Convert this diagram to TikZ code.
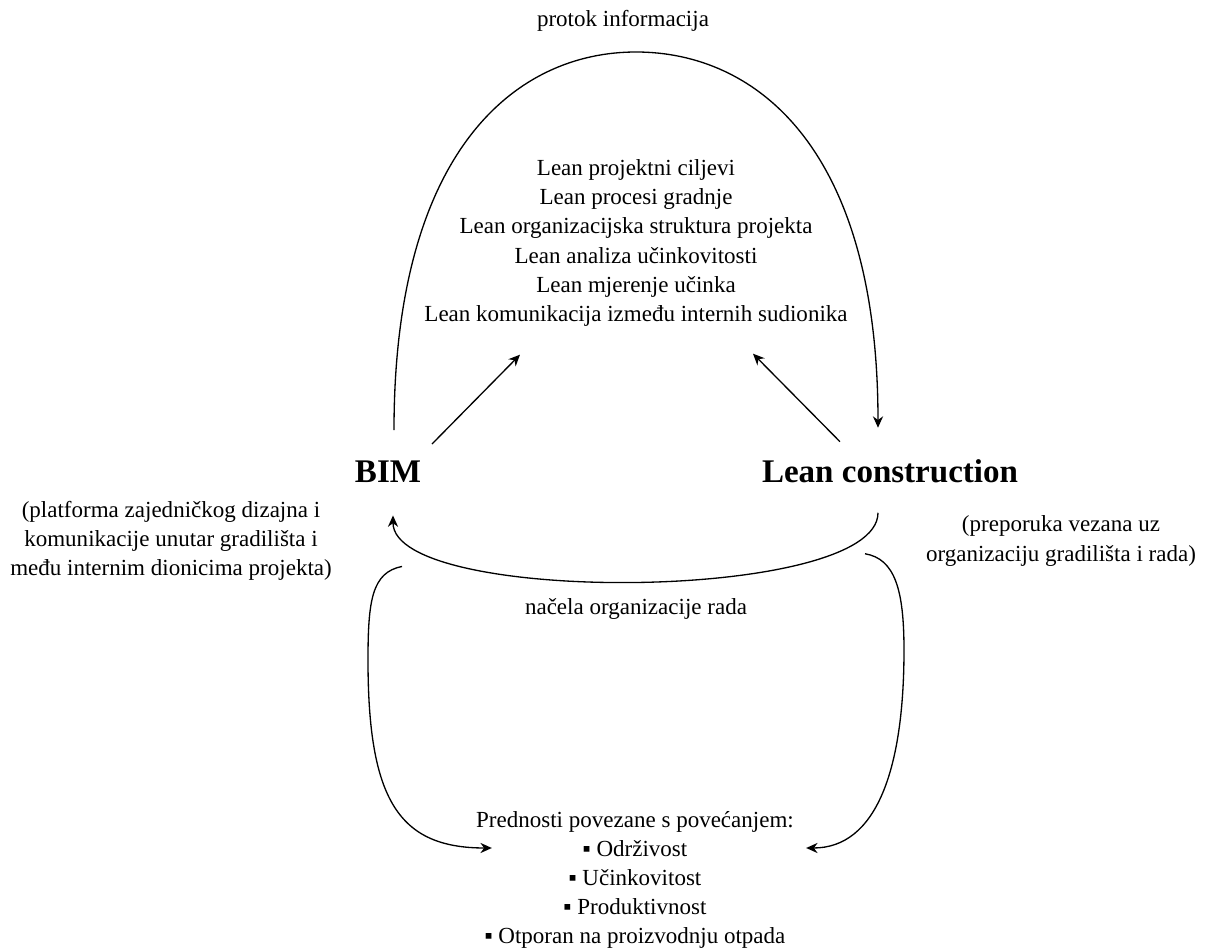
\documentclass[tikz,border=0pt]{standalone}
\usepackage{fontspec}
\setmainfont{Liberation Serif}
\usetikzlibrary{arrows.meta}
\tikzset{
  txt/.style={font={\fontsize{13.1}{16.6}\selectfont}, align=center, inner sep=0pt},
  head/.style={font={\fontsize{18.8}{22}\selectfont\bfseries}, inner sep=0pt},
  arr/.style={-{Stealth[length=6.5pt,width=5.8pt]}, line width=0.75pt}
}
\begin{document}
\begin{tikzpicture}[x=0.02cm,y=-0.02cm]
        \useasboundingbox (0,0) rectangle (1205,949);

        \node[txt] (info) at (623,21) {protok informacija};
        \node[txt] (goals) at (636,243) {Lean projektni ciljevi\\Lean procesi gradnje\\Lean organizacijska struktura projekta\\Lean analiza učinkovitosti\\Lean mjerenje učinka\\Lean komunikacija između internih sudionika};
        \node[head, anchor=base] (bim) at (388,483) {BIM};
        \node[head, anchor=base] (lean) at (890,483) {Lean construction};
        \node[txt] (bimnote) at (171,541) {(platforma zajedničkog dizajna i\\komunikacije unutar gradilišta i\\među internim dionicima projekta)};
        \node[txt] (leannote) at (1061,541) {(preporuka vezana uz\\organizaciju gradilišta i rada)};
        \node[txt] (rules) at (636,609) {načela organizacije rada};
        \node[txt] (benefits) at (635,880) {Prednosti povezane s povećanjem:\\▪ Održivost\\▪ Učinkovitost\\▪ Produktivnost\\▪ Otporan na proizvodnju otpada};

        \coordinate (arctop) at (636,52);

        % protok informacija
        \draw[arr] ([shift={(6,-31)}]bim.north) .. controls +(0,-280) and +(-120,0) .. (arctop)
            .. controls +(120,0) and +(0,-280) .. ([shift={(-12,-32)}]lean.north);
        \draw[arr] ([shift={(44,-17)}]bim.north) -- ([shift={(-116,28)}]goals.south);
        \draw[arr] ([shift={(-50,-18)}]lean.north) -- ([shift={(117,27)}]goals.south);

        % nacela organizacije rada
        \draw[arr] ([shift={(-12,29)}]lean.south) .. controls +(0,90) and +(0,90) .. ([shift={(5,32)}]bim.south);

        % prema prednostima
        \draw[arr] ([shift={(14,83)}]bim.south) .. controls +(-30,6) and +(0,-60) .. (368,660)
            .. controls +(0,140) and +(-93,0) .. ([shift={(16,-32)}]benefits.west);
        \draw[arr] ([shift={(-25,70)}]lean.south) .. controls +(30,5) and +(0,-60) .. (904,650)
            .. controls +(0,120) and +(70,0) .. ([shift={(12,-32)}]benefits.east);
    \end{tikzpicture}
\end{document}
